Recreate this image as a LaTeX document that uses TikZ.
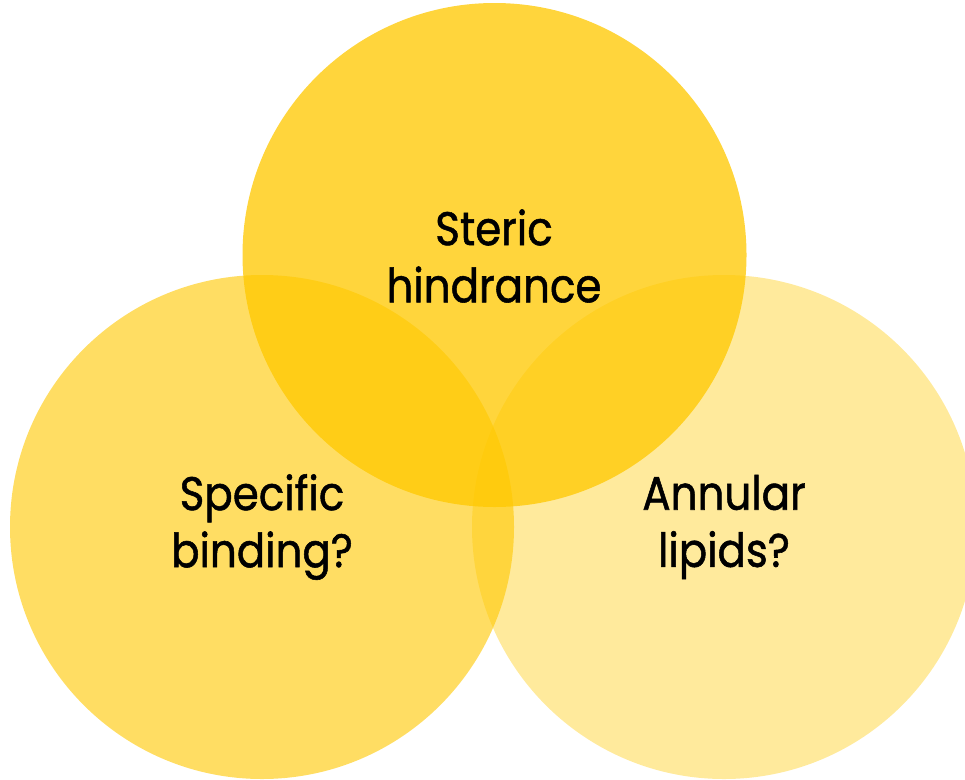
\documentclass[tikz,border=0pt]{standalone}
\usepackage{fontspec}
\setmainfont{Poppins}
\newfontfamily\lblfont{Poppins}[FakeBold=1.2]
\definecolor{gold}{RGB}{255,200,0}
\begin{document}
\begin{tikzpicture}[x=1pt,y=-1pt,
  venn/.style={circle, minimum size=504pt, inner sep=0pt, fill=gold},
  lbl/.style={align=center, font=\lblfont\fontsize{42}{51}\selectfont, text=black, yscale=1.12, transform shape}]
\useasboundingbox (0,0) rectangle (965,779);
\begin{scope}
\clip (0,0) rectangle (965,779);
\node[venn, fill opacity=0.61] (left) at (262,527) {};
\node[venn, fill opacity=0.39] (right) at (724,527) {};
\node[venn, fill opacity=0.765] (top) at (494.5,255) {};
\end{scope}
\node[lbl] (t1) at (494,256) {Steric\\hindrance};
\node[lbl] (t2) at (262,527) {Specific\\binding?};
\node[lbl] (t3) at (724,527) {Annular\\lipids?};
\end{tikzpicture}
\end{document}
